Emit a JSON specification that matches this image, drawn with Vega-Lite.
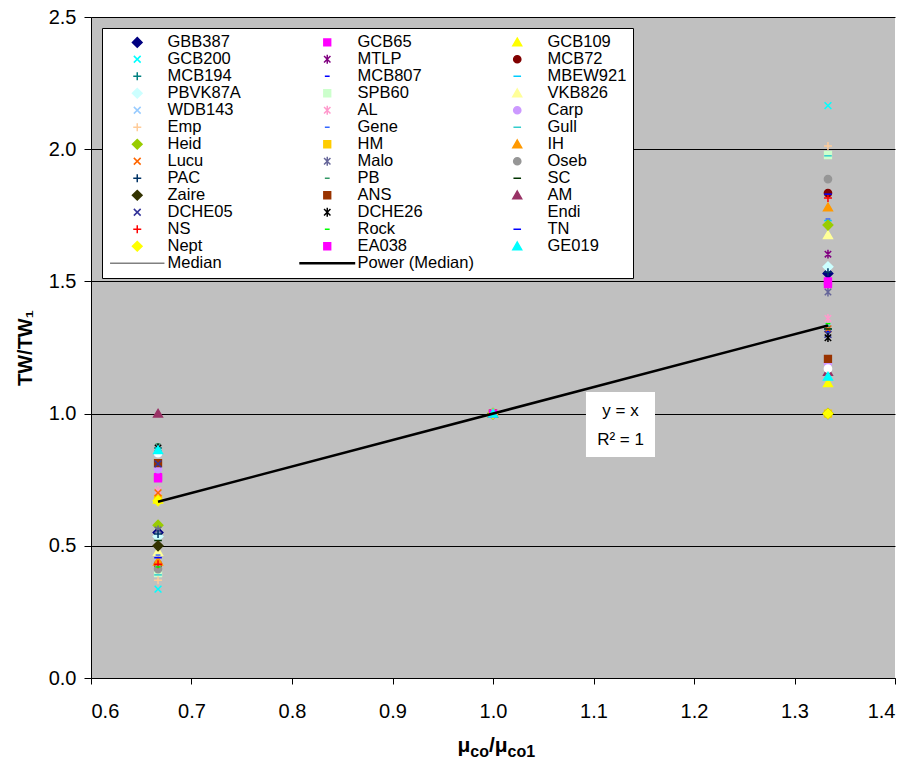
{
  "$schema": "https://vega.github.io/schema/vega-lite/v6.json",
  "width": 804,
  "height": 661,
  "autosize": {"type": "none"},
  "padding": {"left": 91, "top": 17, "right": 16, "bottom": 88},
  "background": "white",
  "config": {
    "view": {"fill": "#C0C0C0", "stroke": null},
    "font": "Liberation Sans",
    "axis": {"labelFont": "Liberation Sans", "titleFont": "Liberation Sans", "labelColor": "black", "titleColor": "black", "domainColor": "black", "tickColor": "black"}
  },
  "datasets": {
    "points": [
      {"series": "GBB387", "x": 0.6667, "y": 0.55}, {"series": "GBB387", "x": 1.0, "y": 1.0}, {"series": "GBB387", "x": 1.3333, "y": 1.53},
      {"series": "GCB65", "x": 0.6667, "y": 0.76}, {"series": "GCB65", "x": 1.0, "y": 1.0}, {"series": "GCB65", "x": 1.3333, "y": 1.5},
      {"series": "GCB109", "x": 0.6667, "y": 0.675}, {"series": "GCB109", "x": 1.0, "y": 1.0}, {"series": "GCB109", "x": 1.3333, "y": 1.115},
      {"series": "GCB200", "x": 0.6667, "y": 0.336}, {"series": "GCB200", "x": 1.0, "y": 1.0}, {"series": "GCB200", "x": 1.3333, "y": 2.165},
      {"series": "MTLP", "x": 0.6667, "y": 0.8}, {"series": "MTLP", "x": 1.0, "y": 1.0}, {"series": "MTLP", "x": 1.3333, "y": 1.603},
      {"series": "MCB72", "x": 0.6667, "y": 0.43}, {"series": "MCB72", "x": 1.0, "y": 1.0}, {"series": "MCB72", "x": 1.3333, "y": 1.834},
      {"series": "MCB194", "x": 0.6667, "y": 0.87}, {"series": "MCB194", "x": 1.0, "y": 1.0}, {"series": "MCB194", "x": 1.3333, "y": 1.32},
      {"series": "MCB807", "x": 0.6667, "y": 0.78}, {"series": "MCB807", "x": 1.0, "y": 1.0}, {"series": "MCB807", "x": 1.3333, "y": 1.31},
      {"series": "MBEW921", "x": 0.6667, "y": 0.86}, {"series": "MBEW921", "x": 1.0, "y": 1.0}, {"series": "MBEW921", "x": 1.3333, "y": 1.73},
      {"series": "PBVK87A", "x": 0.6667, "y": 0.535}, {"series": "PBVK87A", "x": 1.0, "y": 1.0}, {"series": "PBVK87A", "x": 1.3333, "y": 1.555},
      {"series": "SPB60", "x": 0.6667, "y": 0.397}, {"series": "SPB60", "x": 1.0, "y": 1.0}, {"series": "SPB60", "x": 1.3333, "y": 1.978},
      {"series": "VKB826", "x": 0.6667, "y": 0.477}, {"series": "VKB826", "x": 1.0, "y": 1.0}, {"series": "VKB826", "x": 1.3333, "y": 1.675},
      {"series": "WDB143", "x": 0.6667, "y": 0.85}, {"series": "WDB143", "x": 1.0, "y": 1.0}, {"series": "WDB143", "x": 1.3333, "y": 1.325},
      {"series": "AL", "x": 0.6667, "y": 0.71}, {"series": "AL", "x": 1.0, "y": 1.0}, {"series": "AL", "x": 1.3333, "y": 1.36},
      {"series": "Carp", "x": 0.6667, "y": 0.79}, {"series": "Carp", "x": 1.0, "y": 1.0}, {"series": "Carp", "x": 1.3333, "y": 1.19},
      {"series": "Emp", "x": 0.6667, "y": 0.37}, {"series": "Emp", "x": 1.0, "y": 1.0}, {"series": "Emp", "x": 1.3333, "y": 2.012},
      {"series": "Gene", "x": 0.6667, "y": 0.465}, {"series": "Gene", "x": 1.0, "y": 1.0}, {"series": "Gene", "x": 1.3333, "y": 1.736},
      {"series": "Gull", "x": 0.6667, "y": 0.39}, {"series": "Gull", "x": 1.0, "y": 1.0}, {"series": "Gull", "x": 1.3333, "y": 1.975},
      {"series": "Heid", "x": 0.6667, "y": 0.578}, {"series": "Heid", "x": 1.0, "y": 1.0}, {"series": "Heid", "x": 1.3333, "y": 1.713},
      {"series": "HM", "x": 0.6667, "y": 0.677}, {"series": "HM", "x": 1.0, "y": 1.0}, {"series": "HM", "x": 1.3333, "y": 1.0},
      {"series": "IH", "x": 0.6667, "y": 0.44}, {"series": "IH", "x": 1.0, "y": 1.0}, {"series": "IH", "x": 1.3333, "y": 1.78},
      {"series": "Lucu", "x": 0.6667, "y": 0.7}, {"series": "Lucu", "x": 1.0, "y": 1.0}, {"series": "Lucu", "x": 1.3333, "y": 1.32},
      {"series": "Malo", "x": 0.6667, "y": 0.56}, {"series": "Malo", "x": 1.0, "y": 1.0}, {"series": "Malo", "x": 1.3333, "y": 1.46},
      {"series": "Oseb", "x": 0.6667, "y": 0.412}, {"series": "Oseb", "x": 1.0, "y": 1.0}, {"series": "Oseb", "x": 1.3333, "y": 1.887},
      {"series": "PAC", "x": 0.6667, "y": 0.545}, {"series": "PAC", "x": 1.0, "y": 1.0}, {"series": "PAC", "x": 1.3333, "y": 1.535},
      {"series": "PB", "x": 0.6667, "y": 0.885}, {"series": "PB", "x": 1.0, "y": 1.0}, {"series": "PB", "x": 1.3333, "y": 1.33},
      {"series": "SC", "x": 0.6667, "y": 0.52}, {"series": "SC", "x": 1.0, "y": 1.0}, {"series": "SC", "x": 1.3333, "y": 1.32},
      {"series": "Zaire", "x": 0.6667, "y": 0.5}, {"series": "Zaire", "x": 1.0, "y": 1.0}, {"series": "Zaire", "x": 1.3333, "y": 1.0},
      {"series": "ANS", "x": 0.6667, "y": 0.813}, {"series": "ANS", "x": 1.0, "y": 1.0}, {"series": "ANS", "x": 1.3333, "y": 1.207},
      {"series": "AM", "x": 0.6667, "y": 1.0}, {"series": "AM", "x": 1.0, "y": 1.0}, {"series": "AM", "x": 1.3333, "y": 1.158},
      {"series": "DCHE05", "x": 0.6667, "y": 0.81}, {"series": "DCHE05", "x": 1.0, "y": 1.0}, {"series": "DCHE05", "x": 1.3333, "y": 1.3},
      {"series": "DCHE26", "x": 0.6667, "y": 0.87}, {"series": "DCHE26", "x": 1.0, "y": 1.0}, {"series": "DCHE26", "x": 1.3333, "y": 1.287},
      {"series": "Endi", "x": 0.6667, "y": 0.85}, {"series": "Endi", "x": 1.0, "y": 1.0}, {"series": "Endi", "x": 1.3333, "y": 1.17},
      {"series": "NS", "x": 0.6667, "y": 0.43}, {"series": "NS", "x": 1.0, "y": 1.0}, {"series": "NS", "x": 1.3333, "y": 1.815},
      {"series": "Rock", "x": 0.6667, "y": 0.42}, {"series": "Rock", "x": 1.0, "y": 1.0}, {"series": "Rock", "x": 1.3333, "y": 1.34},
      {"series": "TN", "x": 0.6667, "y": 0.455}, {"series": "TN", "x": 1.0, "y": 1.0}, {"series": "TN", "x": 1.3333, "y": 1.83},
      {"series": "Nept", "x": 0.6667, "y": 0.67}, {"series": "Nept", "x": 1.0, "y": 1.0}, {"series": "Nept", "x": 1.3333, "y": 1.0},
      {"series": "EA038", "x": 0.6667, "y": 0.755}, {"series": "EA038", "x": 1.0, "y": 1.0}, {"series": "EA038", "x": 1.3333, "y": 1.49},
      {"series": "GE019", "x": 0.6667, "y": 0.862}, {"series": "GE019", "x": 1.0, "y": 1.0}, {"series": "GE019", "x": 1.3333, "y": 1.14}
    ],
    "median": [
      {"x": 0.6667, "y": 0.6667}, {"x": 1.0, "y": 1.0}, {"x": 1.3333, "y": 1.3333}
    ],
    "trend": [
      {"x": 0.6667, "y": 0.6667}, {"x": 1.3333, "y": 1.3333}
    ]
  },
  "layer": [
    {
      "data": {"name": "median"},
      "mark": {"type": "line", "color": "#808080", "strokeWidth": 1},
      "encoding": {
        "x": {"field": "x", "type": "quantitative", "scale": {"domain": [0.6, 1.4], "nice": false, "zero": false},
          "axis": {"values": [0.6, 0.7, 0.8, 0.9, 1.0, 1.1, 1.2, 1.3, 1.4], "format": ".1f", "labelFontSize": 20, "tickSize": 6, "labelPadding": 17, "title": null, "grid": false}},
        "y": {"field": "y", "type": "quantitative", "scale": {"domain": [0, 2.5], "nice": false},
          "axis": {"values": [0, 0.5, 1.0, 1.5, 2.0, 2.5], "format": ".1f", "labelFontSize": 20, "tickSize": 7, "labelPadding": 8,
            "grid": true, "gridColor": "black", "gridOpacity": 1, "gridWidth": 1,
            "title": "TW/TW₁", "titleFontSize": 20, "titleFontWeight": "bold", "titlePadding": 13}}
      }
    },
    {
      "data": {"name": "points"},
      "mark": {"type": "point", "filled": true, "opacity": 1, "size": 64, "strokeWidth": 1.5},
      "encoding": {
        "x": {"field": "x", "type": "quantitative"},
        "y": {"field": "y", "type": "quantitative"},
        "fill": {"field": "series", "type": "nominal", "sort": null,
          "scale": {"domain": ["GBB387", "GCB200", "MCB194", "PBVK87A", "WDB143", "Emp", "Heid", "Lucu", "PAC", "Zaire", "DCHE05", "NS", "Nept", "Median", "GCB65", "MTLP", "MCB807", "SPB60", "AL", "Gene", "HM", "Malo", "PB", "ANS", "DCHE26", "Rock", "EA038", "Power (Median)", "GCB109", "MCB72", "MBEW921", "VKB826", "Carp", "Gull", "IH", "Oseb", "SC", "AM", "Endi", "TN", "GE019"],
            "range": ["#000080", "#00FFFF", "#008080", "#CCFFFF", "#99CCFF", "#FFCC99", "#99CC00", "#FF6600", "#003366", "#333300", "#333399", "#FF0000", "#FFFF00", "#808080", "#FF00FF", "#800080", "#0000FF", "#CCFFCC", "#FF99CC", "#3366FF", "#FFCC00", "#666699", "#339966", "#993300", "#000000", "#00FF00", "#FF00FF", "#000000", "#FFFF00", "#800000", "#00CCFF", "#FFFF99", "#CC99FF", "#33CCCC", "#FF9900", "#969696", "#003300", "#993366", "#FFFFFF", "#0000FF", "#00FFFF"]},
          "legend": {"orient": "none", "legendX": 11, "legendY": 11, "columns": 3, "gridAlign": "all", "columnPadding": 13, "rowPadding": 0, "symbolOffset": 21, "labelOffset": 22, "symbolLimit": 0, "labelFontSize": 16.5, "labelFont": "Liberation Sans", "labelColor": "black", "labelLimit": 200, "symbolSize": 64, "symbolStrokeWidth": 1.5, "strokeColor": "black", "fillColor": "white", "padding": 6, "title": null}},
        "stroke": {"field": "series", "type": "nominal", "sort": null,
          "scale": {"domain": ["GBB387", "GCB200", "MCB194", "PBVK87A", "WDB143", "Emp", "Heid", "Lucu", "PAC", "Zaire", "DCHE05", "NS", "Nept", "Median", "GCB65", "MTLP", "MCB807", "SPB60", "AL", "Gene", "HM", "Malo", "PB", "ANS", "DCHE26", "Rock", "EA038", "Power (Median)", "GCB109", "MCB72", "MBEW921", "VKB826", "Carp", "Gull", "IH", "Oseb", "SC", "AM", "Endi", "TN", "GE019"],
            "range": ["#000080", "#00FFFF", "#008080", "#CCFFFF", "#99CCFF", "#FFCC99", "#99CC00", "#FF6600", "#003366", "#333300", "#333399", "#FF0000", "#FFFF00", "#808080", "#FF00FF", "#800080", "#0000FF", "#CCFFCC", "#FF99CC", "#3366FF", "#FFCC00", "#666699", "#339966", "#993300", "#000000", "#00FF00", "#FF00FF", "#000000", "#FFFF00", "#800000", "#00CCFF", "#FFFF99", "#CC99FF", "#33CCCC", "#FF9900", "#969696", "#003300", "#993366", "#FFFFFF", "#0000FF", "#00FFFF"]},
          "legend": {"orient": "none", "legendX": 11, "legendY": 11, "columns": 3, "gridAlign": "all", "columnPadding": 13, "rowPadding": 0, "symbolOffset": 21, "labelOffset": 22, "symbolLimit": 0, "labelFontSize": 16.5, "labelFont": "Liberation Sans", "labelColor": "black", "labelLimit": 200, "symbolSize": 64, "symbolStrokeWidth": 1.5, "strokeColor": "black", "fillColor": "white", "padding": 6, "title": null}},
        "shape": {"field": "series", "type": "nominal", "sort": null,
          "scale": {"domain": ["GBB387", "GCB200", "MCB194", "PBVK87A", "WDB143", "Emp", "Heid", "Lucu", "PAC", "Zaire", "DCHE05", "NS", "Nept", "Median", "GCB65", "MTLP", "MCB807", "SPB60", "AL", "Gene", "HM", "Malo", "PB", "ANS", "DCHE26", "Rock", "EA038", "Power (Median)", "GCB109", "MCB72", "MBEW921", "VKB826", "Carp", "Gull", "IH", "Oseb", "SC", "AM", "Endi", "TN", "GE019"],
            "range": [
              "M0,-1.2L1.2,0L0,1.2L-1.2,0Z", "M-0.85,-0.85L0.85,0.85M-0.85,0.85L0.85,-0.85", "M-1,0H1M0,-1V1",
              "M0,-1.2L1.2,0L0,1.2L-1.2,0Z", "M-0.85,-0.85L0.85,0.85M-0.85,0.85L0.85,-0.85", "M-1,0H1M0,-1V1",
              "M0,-1.2L1.2,0L0,1.2L-1.2,0Z", "M-0.85,-0.85L0.85,0.85M-0.85,0.85L0.85,-0.85", "M-1,0H1M0,-1V1",
              "M0,-1.2L1.2,0L0,1.2L-1.2,0Z", "M-0.85,-0.85L0.85,0.85M-0.85,0.85L0.85,-0.85", "M-1,0H1M0,-1V1",
              "M0,-1.2L1.2,0L0,1.2L-1.2,0Z", "M-6.8,0H6.8",
              "M-0.85,-0.85H0.85V0.85H-0.85Z", "M-0.8,-0.8L0.8,0.8M-0.8,0.8L0.8,-0.8M0,-1.1V1.1", "M-0.6,0H0.6",
              "M-0.85,-0.85H0.85V0.85H-0.85Z", "M-0.8,-0.8L0.8,0.8M-0.8,0.8L0.8,-0.8M0,-1.1V1.1", "M-0.6,0H0.6",
              "M-0.85,-0.85H0.85V0.85H-0.85Z", "M-0.8,-0.8L0.8,0.8M-0.8,0.8L0.8,-0.8M0,-1.1V1.1", "M-0.6,0H0.6",
              "M-0.85,-0.85H0.85V0.85H-0.85Z", "M-0.8,-0.8L0.8,0.8M-0.8,0.8L0.8,-0.8M0,-1.1V1.1", "M-0.6,0H0.6",
              "M-0.85,-0.85H0.85V0.85H-0.85Z", "M-6.8,-0.15H6.8V0.15H-6.8Z",
              "M0,-1.05L1.1,0.85H-1.1Z", "M0.9,0A0.9,0.9 0 1,1 -0.9,0A0.9,0.9 0 1,1 0.9,0Z", "M-0.95,0H0.95",
              "M0,-1.05L1.1,0.85H-1.1Z", "M0.9,0A0.9,0.9 0 1,1 -0.9,0A0.9,0.9 0 1,1 0.9,0Z", "M-0.95,0H0.95",
              "M0,-1.05L1.1,0.85H-1.1Z", "M0.9,0A0.9,0.9 0 1,1 -0.9,0A0.9,0.9 0 1,1 0.9,0Z", "M-0.95,0H0.95",
              "M0,-1.05L1.1,0.85H-1.1Z", "M0.9,0A0.9,0.9 0 1,1 -0.9,0A0.9,0.9 0 1,1 0.9,0Z", "M-0.95,0H0.95",
              "M0,-1.05L1.1,0.85H-1.1Z"
            ]},
          "legend": {"orient": "none", "legendX": 11, "legendY": 11, "columns": 3, "gridAlign": "all", "columnPadding": 13, "rowPadding": 0, "symbolOffset": 21, "labelOffset": 22, "symbolLimit": 0, "labelFontSize": 16.5, "labelFont": "Liberation Sans", "labelColor": "black", "labelLimit": 200, "symbolSize": 64, "symbolStrokeWidth": 1.5, "strokeColor": "black", "fillColor": "white", "padding": 6, "title": null}}
      }
    },
    {
      "data": {"name": "trend"},
      "mark": {"type": "line", "color": "black", "strokeWidth": 2.5},
      "encoding": {
        "x": {"field": "x", "type": "quantitative"},
        "y": {"field": "y", "type": "quantitative"}
      }
    },
    {
      "data": {"values": [{}]},
      "mark": {"type": "rect", "fill": "white", "stroke": null},
      "encoding": {
        "x": {"datum": 1.0925, "type": "quantitative"},
        "x2": {"datum": 1.1612},
        "y": {"datum": 1.0817, "type": "quantitative"},
        "y2": {"datum": 0.8359}
      }
    },
    {
      "data": {"values": [{}]},
      "mark": {"type": "text", "fontSize": 17, "font": "Liberation Sans", "color": "black", "align": "center", "baseline": "middle"},
      "encoding": {
        "x": {"datum": 1.1269, "type": "quantitative"},
        "y": {"datum": 1.0098, "type": "quantitative"},
        "text": {"value": "y = x"}
      }
    },
    {
      "data": {"values": [{}]},
      "mark": {"type": "text", "fontSize": 17, "font": "Liberation Sans", "color": "black", "align": "center", "baseline": "middle"},
      "encoding": {
        "x": {"datum": 1.1269, "type": "quantitative"},
        "y": {"datum": 0.9, "type": "quantitative"},
        "text": {"value": "R² = 1"}
      }
    },
    {
      "data": {"values": [{}]},
      "mark": {"type": "text", "fontSize": 21, "fontWeight": "bold", "font": "Liberation Sans", "color": "black", "align": "left", "baseline": "alphabetic", "dx": -35.5, "dy": 74},
      "encoding": {"x": {"datum": 1.0, "type": "quantitative"}, "y": {"datum": 0, "type": "quantitative"}, "text": {"value": "μ"}}
    },
    {
      "data": {"values": [{}]},
      "mark": {"type": "text", "fontSize": 16, "fontWeight": "bold", "font": "Liberation Sans", "color": "black", "align": "left", "baseline": "alphabetic", "dx": -22.7, "dy": 79},
      "encoding": {"x": {"datum": 1.0, "type": "quantitative"}, "y": {"datum": 0, "type": "quantitative"}, "text": {"value": "co"}}
    },
    {
      "data": {"values": [{}]},
      "mark": {"type": "text", "fontSize": 21, "fontWeight": "bold", "font": "Liberation Sans", "color": "black", "align": "left", "baseline": "alphabetic", "dx": -4.0, "dy": 74},
      "encoding": {"x": {"datum": 1.0, "type": "quantitative"}, "y": {"datum": 0, "type": "quantitative"}, "text": {"value": "/μ"}}
    },
    {
      "data": {"values": [{}]},
      "mark": {"type": "text", "fontSize": 16, "fontWeight": "bold", "font": "Liberation Sans", "color": "black", "align": "left", "baseline": "alphabetic", "dx": 14.6, "dy": 79},
      "encoding": {"x": {"datum": 1.0, "type": "quantitative"}, "y": {"datum": 0, "type": "quantitative"}, "text": {"value": "co1"}}
    }
  ]
}
